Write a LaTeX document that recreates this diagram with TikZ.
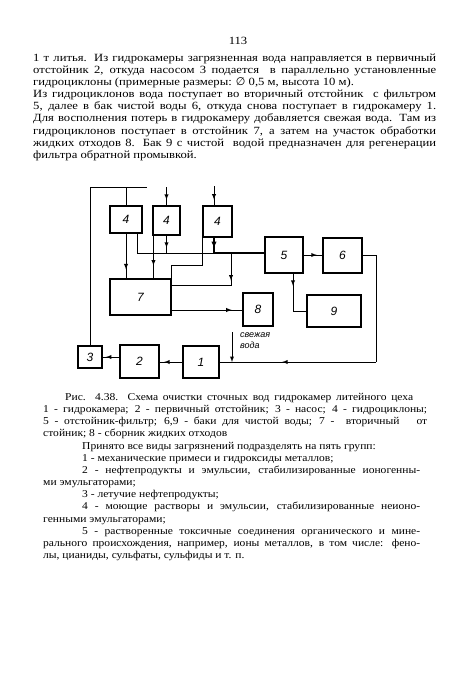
\documentclass[tikz,border=0pt]{standalone}
\usepackage{fontspec}
\setmainfont{Liberation Serif}
\newfontfamily\bodyfont{Liberation Serif}[FakeStretch=1.15]
\newfontfamily\captfont{Liberation Serif}[FakeStretch=1.1]
\newfontfamily\drawfont{Liberation Sans}
\newfontfamily\symbfont{DejaVu Sans}
\usetikzlibrary{decorations.markings}

\tikzset{
  blk/.style={draw, line width=1.1pt, inner sep=0pt, font=\drawfont\itshape\large},
  pipe/.style={line width=0.9pt},
  flowat/.style={postaction={decorate}, decoration={markings, mark=at position #1 with {\arrow{latex}}}},
  txt/.style={anchor=base west, inner sep=0pt, font=\captfont\fontsize{10.5}{12}\selectfont},
  bodytxt/.style={txt, font=\bodyfont\fontsize{11}{12}\selectfont},
}

\begin{document}
\begin{tikzpicture}[x=1pt, y=-1pt, >=latex]
\useasboundingbox (0,0) rectangle (450,675);

%text above
\node[bodytxt, anchor=base] (pg) at (238,44) {113};
\node[bodytxt] (t1) at (33,61) {\makebox[403pt][s]{1 т литья. Из гидрокамеры загрязненная вода направляется в первичный}};
\node[bodytxt] (t2) at (33,73) {\makebox[403pt][s]{отстойник 2, откуда насосом 3 подается \ в параллельно установленные}};
\node[bodytxt] (t3) at (33,85) {гидроциклоны (примерные размеры: {\symbfont ∅} 0,5 м, высота 10 м).};
\node[bodytxt] (t4) at (33,97) {\makebox[403pt][s]{Из гидроциклонов вода поступает во вторичный отстойник \ с фильтром}};
\node[bodytxt] (t5) at (33,109) {\makebox[403pt][s]{5, далее в бак чистой воды 6, откуда снова поступает в гидрокамеру 1.}};
\node[bodytxt] (t6) at (33,121) {\makebox[403pt][s]{Для восполнения потерь в гидрокамеру добавляется свежая вода. Там из}};
\node[bodytxt] (t7) at (33,134) {\makebox[403pt][s]{гидроциклонов поступает в отстойник 7, а затем на участок обработки}};
\node[bodytxt] (t8) at (33,146) {\makebox[403pt][s]{жидких отходов 8. Бак 9 с чистой \ водой предназначен для регенерации}};
\node[bodytxt] (t9) at (33,158) {фильтра обратной промывкой.};

%boxes
\node[blk, minimum width=32pt, minimum height=27pt] (b4a) at (126,219.5) {4};
\node[blk, minimum width=27pt, minimum height=29pt] (b4b) at (166.5,220.5) {4};
\node[blk, minimum width=29pt, minimum height=31pt] (b4c) at (217.5,221.5) {4};
\node[blk, minimum width=61pt, minimum height=36pt] (b7) at (140.5,297) {7};
\node[blk, minimum width=38pt, minimum height=36pt] (b5) at (284,255) {5};
\node[blk, minimum width=39pt, minimum height=35pt] (b6) at (342.5,255.5) {6};
\node[blk, minimum width=30pt, minimum height=33pt] (b8) at (258,309.5) {8};
\node[blk, minimum width=54pt, minimum height=32pt] (b9) at (334,311) {9};
\node[blk, minimum width=24pt, minimum height=22pt] (b3) at (90,357) {3};
\node[blk, minimum width=39pt, minimum height=33pt] (b2) at (139.5,361.5) {2};
\node[blk, minimum width=36pt, minimum height=32pt] (b1) at (201,362) {1};

%pump to hydrocyclones
\coordinate (top) at (147,187);
\coordinate (in4a) at (126,187);
\coordinate (in4b) at (166.5,187);
\coordinate (in4c) at (214,186);
\draw[pipe] (b3.north) |- (top);
\draw[pipe] (in4a) -- (b4a.north);
\draw[pipe, flowat=0.7] (in4b) -- (b4b.north);
\draw[pipe, flowat=0.7] (in4c) -- (in4c |- b4c.north);

%hydrocyclones out
\coordinate (m1) at (137,253);
\coordinate (j7) at (231,253);
\coordinate (k7) at (171,285);
\draw[pipe] (m1 |- b4a.south) -- (m1) -- (m1 -| b5.west);
\draw[line width=1.5pt] (in4c |- m1) -- (m1 -| b5.west);
\draw[pipe, flowat=0.8] (b4a.south) -- (b4a.south |- b7.north);
\draw[pipe, flowat=0.7] ([xshift=1pt]b4b.south west) -- ([xshift=1pt]b4b.south west |- b7.north);
\draw[pipe, flowat=0.7] (b4b.south) -- (b4b.south |- m1);
\draw[line width=1.3pt, flowat=0.7] (in4c |- b4c.south) -- (in4c |- m1);
\draw[pipe] (b4c.south west) -- ++(0,28) -| (b7.north east);
\draw[pipe, flowat=0.3] (j7) |- (k7);

%5, 6, 7, 8, 9
\coordinate (o7) at (171,310);
\coordinate (s5) at (293,273);
\coordinate (rt) at (376,362);
\draw[pipe, flowat=0.85] (o7) -- (o7 -| b8.west);
\draw[pipe, flowat=0.7] (b5.east) -- (b5.east -| b6.west);
\draw[pipe, flowat=0.25] (s5) |- (b9.west);
\draw[pipe] (b6.east) -| (rt);
\draw[pipe, flowat=0.6] (rt) -- (rt -| b1.east);

%fresh water
\coordinate (fw) at (232,332);
\draw[pipe, ->] (fw) -- (fw |- rt);
\node[font=\drawfont\itshape\small, align=left, anchor=north west, inner sep=0pt] (fresh) at (240,332) {свежая\\вода};

%1, 2, 3
\draw[pipe, flowat=0.8] (b1.west) -- (b1.west -| b2.east);
\draw[pipe, flowat=0.8] (b2.west |- b3.east) -- (b3.east);

%caption
\node[txt] (c1) at (65,400) {\makebox[348pt][s]{Рис. 4.38. Схема очистки сточных вод гидрокамер литейного цеха}};
\node[txt] (c2) at (43,412) {\makebox[384pt][s]{1 - гидрокамера; 2 - первичный отстойник; 3 - насос; 4 - гидроциклоны;}};
\node[txt] (c3) at (43,424) {\makebox[384pt][s]{5 - отстойник-фильтр; 6,9 - баки для чистой воды; 7 - \ вторичный \ \ от}};
\node[txt] (c4) at (43,436) {стойник; 8 - сборник жидких отходов};
\node[txt] (g0) at (82,449) {Принято все виды загрязнений подразделять на пять групп:};
\node[txt] (g1) at (82,461) {1 - механические примеси и гидроксиды металлов;};
\node[txt] (g2) at (82,473) {\makebox[338pt][s]{2 - нефтепродукты и эмульсии, стабилизированные ионогенны-}};
\node[txt] (g2b) at (43,485) {ми эмульгаторами;};
\node[txt] (g3) at (82,497) {3 - летучие нефтепродукты;};
\node[txt] (g4) at (82,509) {\makebox[338pt][s]{4 - моющие растворы и эмульсии, стабилизированные неионо-}};
\node[txt] (g4b) at (43,522) {генными эмульгаторами;};
\node[txt] (g5) at (82,534) {\makebox[338pt][s]{5 - растворенные токсичные соединения органического и мине-}};
\node[txt] (g5b) at (43,546) {\makebox[377pt][s]{рального происхождения, например, ионы металлов, в том числе: фено-}};
\node[txt] (g5c) at (43,558) {лы, цианиды, сульфаты, сульфиды и т. п.};
\end{tikzpicture}
\end{document}
